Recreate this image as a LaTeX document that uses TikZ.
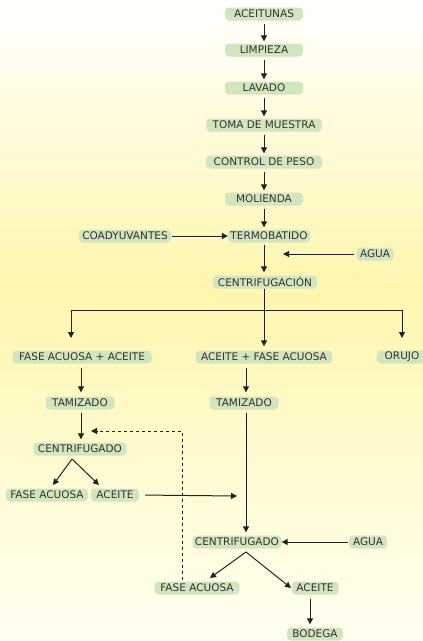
\documentclass[tikz,border=0pt]{standalone}
\usepackage{fontspec}
\setmainfont{DejaVu Sans}
\usetikzlibrary{arrows.meta}
\definecolor{boxfill}{HTML}{D2E5BE}
\definecolor{txt}{HTML}{333333}
\definecolor{ln}{HTML}{222222}
\definecolor{yel}{HTML}{FFF6AE}
\definecolor{pale}{HTML}{FFFFF2}
\begin{document}
\begin{tikzpicture}[x=1pt,y=-1pt,
  box/.style={fill=boxfill,rounded corners=4pt,inner sep=0pt,minimum height=13pt,
    text=txt,font=\fontsize{10.5}{12}\selectfont},
  arr/.style={draw=ln,line width=1pt,-{Triangle[length=6pt,width=6pt]}},
  ln/.style={draw=ln,line width=1pt},
  dsh/.style={draw=ln,line width=1pt,dash pattern=on 3.5pt off 2.5pt,-{Triangle[length=6pt,width=6pt]}}]
\useasboundingbox (0,0) rectangle (423,641);
\shade[top color=white,bottom color=yel] (0,0) rectangle (423,285);
\shade[top color=yel,bottom color=pale] (0,285) rectangle (423,641);
% nodes
\node[box,minimum width=78pt] (ace) at (264,14) {ACEITUNAS};
\node[box,minimum width=78pt] (lim) at (264,50) {LIMPIEZA};
\node[box,minimum width=78pt] (lav) at (264,88) {LAVADO};
\node[box,minimum width=116pt] (tom) at (264,125) {TOMA DE MUESTRA};
\node[box,minimum width=116pt] (con) at (264,162) {CONTROL DE PESO};
\node[box,minimum width=78pt] (mol) at (264,199) {MOLIENDA};
\node[box,minimum width=82pt] (ter) at (269,236) {TERMOBATIDO};
\node[box,minimum width=92pt] (coa) at (125,236) {COADYUVANTES};
\node[box,minimum width=37pt] (agua1) at (375,254) {AGUA};
\node[box,minimum width=104pt] (cen) at (265,282) {CENTRIFUGACIÓN};
\node[box,minimum width=139pt] (faa) at (82,357) {FASE ACUOSA + ACEITE};
\node[box,minimum width=136pt] (afa) at (264,357) {ACEITE + FASE ACUOSA};
\node[box,minimum width=50pt] (oru) at (402,357) {ORUJO};
\node[box,minimum width=69pt] (tamL) at (80,403) {TAMIZADO};
\node[box,minimum width=69pt] (tamR) at (244,403) {TAMIZADO};
\node[box,minimum width=93pt] (cfL) at (80,449) {CENTRIFUGADO};
\node[box,minimum width=82pt] (faL) at (47,495) {FASE ACUOSA};
\node[box,minimum width=48pt] (acL) at (115,495) {ACEITE};
\node[box,minimum width=89pt] (cfR) at (237,542) {CENTRIFUGADO};
\node[box,minimum width=38pt] (agua2) at (368,542) {AGUA};
\node[box,minimum width=85pt] (faR) at (197,588) {FASE ACUOSA};
\node[box,minimum width=47pt] (acR) at (315,588) {ACEITE};
\node[box,minimum width=56pt] (bod) at (315,634) {BODEGA};
% coordinates
\coordinate (aguaTip) at (283,254);
\coordinate (brL) at (71,310);
\coordinate (brR) at (402,310);
\coordinate (tipL) at (71,338);
\coordinate (tipR) at (402,338);
\coordinate (xL) at (81,0);
\coordinate (xR) at (246,0);
\coordinate (splitL) at (72,459);
\coordinate (splitLa) at (53,485);
\coordinate (splitLb) at (99,485);
\coordinate (aceTip) at (237,496);
\coordinate (splitR) at (246,552);
\coordinate (splitRa) at (210,578);
\coordinate (splitRb) at (291,588);
\coordinate (xB) at (310,0);
\coordinate (dashS) at (182,580);
\coordinate (dashC) at (182,431);
\coordinate (dashT) at (91,431);
% connectors
\draw[arr,shorten <=3pt,shorten >=2pt] (ace.south) -- (lim.north);
\draw[arr,shorten <=3pt,shorten >=2pt] (lim.south) -- (lav.north);
\draw[arr,shorten <=3pt,shorten >=2pt] (lav.south) -- (tom.north);
\draw[arr,shorten <=3pt,shorten >=2pt] (tom.south) -- (con.north);
\draw[arr,shorten <=3pt,shorten >=2pt] (con.south) -- (mol.north);
\draw[arr,shorten <=3pt,shorten >=2pt] (mol.south) -- (mol.south |- ter.north);
\draw[arr,shorten <=1pt] (coa.east) -- (ter.west);
\draw[arr,shorten <=2pt,shorten >=3pt] (mol.south |- ter.south) -- (mol.south |- cen.north);
\draw[arr,shorten <=2pt] (agua1.west) -- (aguaTip);
\draw[arr,shorten >=4pt] (mol.south |- cen.south) -- (mol.south |- afa.north);
\draw[ln] (brL) -- (brR);
\draw[arr] (brL) -- (tipL);
\draw[arr] (brR) -- (tipR);
\draw[arr,shorten <=4pt,shorten >=4pt] (xL |- faa.south) -- (xL |- tamL.north);
\draw[arr,shorten <=4pt,shorten >=4pt] (xR |- afa.south) -- (xR |- tamR.north);
\draw[arr,shorten <=3pt,shorten >=3pt] (xL |- tamL.south) -- (xL |- cfL.north);
\draw[arr,shorten <=3pt,shorten >=3pt] (xR |- tamR.south) -- (xR |- cfR.north);
\draw[arr] (splitL) -- (splitLa);
\draw[arr] (splitL) -- (splitLb);
\draw[arr,shorten <=6pt] (acL.east) -- (aceTip);
\draw[arr,shorten <=1pt] (agua2.west) -- (cfR.east);
\draw[arr] (splitR) -- (splitRa);
\draw[arr] (splitR) -- (splitRb);
\draw[arr,shorten <=4pt,shorten >=3pt] (xB |- acR.south) -- (xB |- bod.north);
\draw[dsh] (dashS) -- (dashC) -- (dashT);
\end{tikzpicture}
\end{document}
